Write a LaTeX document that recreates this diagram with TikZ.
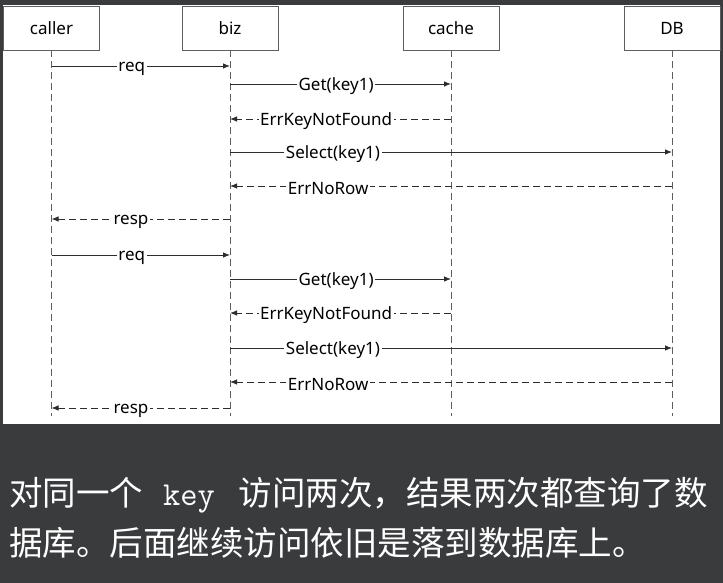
\documentclass[tikz,border=0pt]{standalone}
\usepackage{fontspec}
\setmainfont{Noto Sans}
\newfontfamily\cjk{Noto Sans CJK SC}
\usetikzlibrary{arrows.meta,positioning,calc}

\definecolor{bgdark}{RGB}{58,59,61}
\definecolor{lineclr}{RGB}{45,45,45}
\definecolor{lifeclr}{RGB}{95,95,95}

\begin{document}
\begin{tikzpicture}[x=1pt,y=-1pt,
  actor/.style={rectangle, draw=lifeclr, fill=white, minimum width=96pt,
                minimum height=44pt, inner sep=0pt, font=\fontsize{17}{19}\selectfont},
  life/.style={draw=lifeclr, line width=0.8pt, dash pattern=on 7pt off 4pt},
  call/.style={draw=lineclr, line width=0.8pt, -{Latex[length=7pt,width=5.5pt]}},
  back/.style={call, dash pattern=on 7pt off 4pt},
  msg/.style={fill=white, inner xsep=1.5pt, inner ysep=0.5pt, yshift=-2.5pt,
              font=\fontsize{17}{19}\selectfont},
  note/.style={anchor=west, inner sep=0pt, text=white, font=\cjk\fontsize{33.5}{40}\selectfont}
]
% background
\fill[bgdark] (0,0) rectangle (723,583);
\fill[white] (3,5) rectangle (720,424);
\useasboundingbox (0,0) rectangle (723,583);

% actors
\node[actor] (caller) at (51.5,28) {caller};
\node[actor] (biz) at (230,28) {biz};
\node[actor] (cache) at (451,28) {cache};
\node[actor] (db) at (672,28) {DB};

% lifelines
\foreach \a in {caller,biz,cache,db}
  \draw[life] (\a.south) -- (\a |- 0,416);

% message rows
\foreach \y [count=\i] in {66,84,119,152,186,219,255,279,313,348,382,408}
  \coordinate (r\i) at (0,\y);

% first request
\draw[call] (caller |- r1) -- node[msg,pos=.45]{req} (biz |- r1);
\draw[call] (biz |- r2) -- node[msg,pos=.48]{Get(key1)} (cache |- r2);
\draw[back] (cache |- r3) -- node[msg,pos=.565]{ErrKeyNotFound} (biz |- r3);
\draw[call] (biz |- r4) -- node[msg,pos=.233]{Select(key1)} (db |- r4);
\draw[back] (db |- r5) -- node[msg,pos=.778]{ErrNoRow} (biz |- r5);
\draw[back] (biz |- r6) -- node[msg,pos=.555]{resp} (caller |- r6);

% second request
\draw[call] (caller |- r7) -- node[msg,pos=.45]{req} (biz |- r7);
\draw[call] (biz |- r8) -- node[msg,pos=.48]{Get(key1)} (cache |- r8);
\draw[back] (cache |- r9) -- node[msg,pos=.565]{ErrKeyNotFound} (biz |- r9);
\draw[call] (biz |- r10) -- node[msg,pos=.233]{Select(key1)} (db |- r10);
\draw[back] (db |- r11) -- node[msg,pos=.778]{ErrNoRow} (biz |- r11);
\draw[back] (biz |- r12) -- node[msg,pos=.555]{resp} (caller |- r12);

% caption
\node[note] (line1) at (9,495) {对同一个\hspace{20pt}{\ttfamily key}\hspace{24pt}访问两次，结果两次都查询了数};
\node[note] (line2) at (9,543) {据库。后面继续访问依旧是落到数据库上。};
\end{tikzpicture}
\end{document}
